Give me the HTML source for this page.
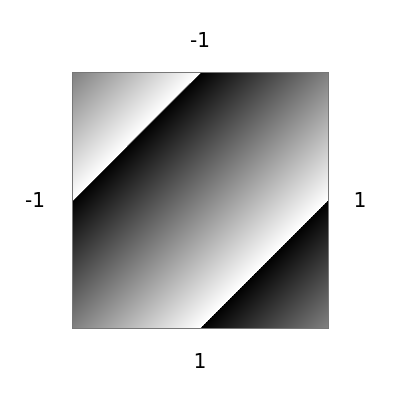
<!DOCTYPE html>
<html><head><meta charset="utf-8"><style>
html,body{margin:0;padding:0;background:#fff;width:400px;height:400px;overflow:hidden}
.lbl{position:absolute;font-family:"DejaVu Sans","Liberation Sans",sans-serif;font-size:20px;color:#000;transform:translate(-50%,-50%);white-space:nowrap}
#plot{position:absolute;left:72px;top:72px;width:257px;height:257px;box-sizing:border-box;border:1px solid #777;
background:linear-gradient(135deg,#808080 0%,#ffffff 25%,#000000 25%,#ffffff 75%,#000000 75%,#808080 100%)}
</style></head><body>
<div id="plot"></div>
<div class="lbl" style="left:200px;top:40px">-1</div>
<div class="lbl" style="left:200px;top:361px">1</div>
<div class="lbl" style="left:35px;top:200px">-1</div>
<div class="lbl" style="left:360px;top:200px">1</div>
</body></html>
